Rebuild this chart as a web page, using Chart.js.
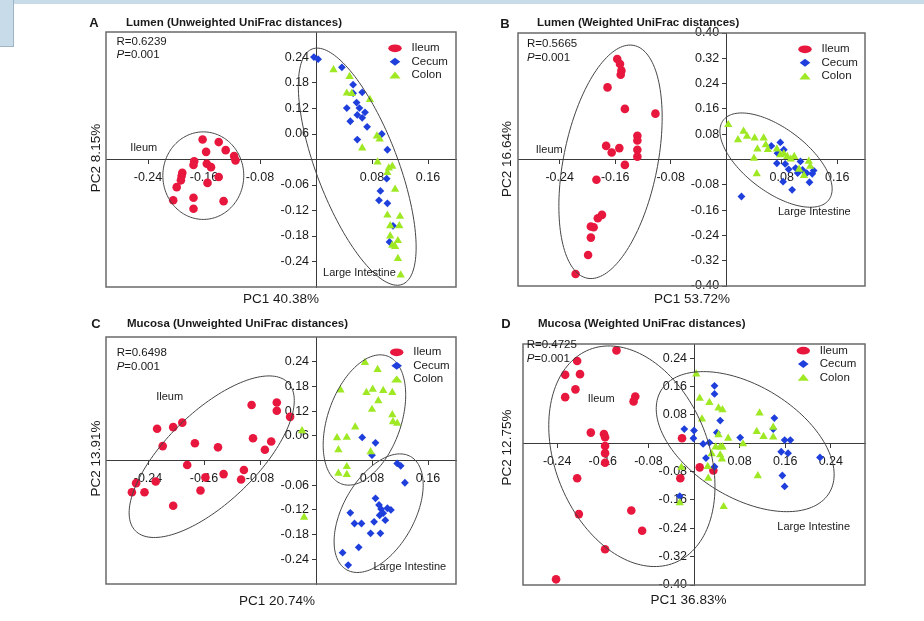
<!DOCTYPE html>
<html>
<head>
<meta charset="utf-8">
<title>PCoA of ileum and large intestine communities</title>
<script src="https://cdn.jsdelivr.net/npm/chart.js@4.4.1/dist/chart.umd.min.js"></script>
<style>
  html, body { margin: 0; padding: 0; background: #ffffff; }
  body { width: 924px; height: 621px; position: relative; overflow: hidden; }
  .band-top { position: absolute; left: 0; top: 0; width: 924px; height: 4px; background: #c8dbe9; }
  .band-left { position: absolute; left: 0; top: 0; width: 13px; height: 46px; background: #c8dbe9; border-right: 1px solid #9fb4c4; border-bottom: 1px solid #9fb4c4; }
  canvas { position: absolute; left: 0; top: 0; pointer-events: none; }
</style>
</head>
<body>
<div class="band-top"></div>
<div class="band-left"></div>
<canvas id="chartA" width="924" height="621"></canvas>
<canvas id="chartB" width="924" height="621"></canvas>
<canvas id="chartC" width="924" height="621"></canvas>
<canvas id="chartD" width="924" height="621"></canvas>
<script>
// ---- groups ----
const groups = ['Ileum', 'Cecum', 'Colon'];

// ---- tick values ----
const xTicksLeft = [-0.24, -0.16, -0.08, 0.08, 0.16];
const xTicksWide = [-0.24, -0.16, -0.08, 0.08, 0.16, 0.24];
const yTicks06 = [-0.24, -0.18, -0.12, -0.06, 0.06, 0.12, 0.18, 0.24];
const yTicks08 = [-0.40, -0.32, -0.24, -0.16, -0.08, 0.08, 0.16, 0.24, 0.32, 0.40];
const yTicks08Short = [-0.40, -0.32, -0.24, -0.16, -0.08, 0.08, 0.16, 0.24];

// ---- Lumen, unweighted UniFrac: [PC1, PC2] ----
const lumenUnwIleum = [[-0.162,0.047],[-0.139,0.041],[-0.157,0.018],[-0.129,0.022],[-0.117,0.008],[-0.115,-0.002],[-0.174,-0.004],[-0.175,-0.013],[-0.156,-0.010],[-0.150,-0.018],[-0.191,-0.031],[-0.192,-0.039],[-0.193,-0.049],[-0.199,-0.065],[-0.139,-0.041],[-0.155,-0.055],[-0.204,-0.096],[-0.175,-0.090],[-0.175,-0.116],[-0.132,-0.098]];
const lumenUnwCecum = [[-0.003,0.241],[0.003,0.236],[0.037,0.217],[0.053,0.176],[0.066,0.158],[0.053,0.156],[0.044,0.121],[0.058,0.134],[0.062,0.121],[0.070,0.111],[0.059,0.105],[0.066,0.098],[0.049,0.090],[0.073,0.077],[0.059,0.047],[0.094,0.060],[0.102,0.023],[0.101,-0.045],[0.092,-0.074],[0.090,-0.096],[0.102,-0.103],[0.110,-0.156],[0.105,-0.194]];
const lumenUnwColon = [[0.025,0.211],[0.048,0.195],[0.044,0.156],[0.051,0.155],[0.077,0.141],[0.087,0.055],[0.091,0.048],[0.066,0.027],[0.088,-0.006],[0.104,-0.020],[0.109,-0.016],[0.102,-0.031],[0.113,-0.070],[0.102,-0.131],[0.120,-0.134],[0.106,-0.156],[0.119,-0.156],[0.106,-0.180],[0.117,-0.191],[0.109,-0.202],[0.113,-0.205],[0.117,-0.233],[0.121,-0.272]];

// ---- Lumen, weighted UniFrac ----
const lumenWIleum = [[-0.157,0.318],[-0.153,0.302],[-0.151,0.281],[-0.152,0.268],[-0.171,0.228],[-0.146,0.160],[-0.102,0.145],[-0.128,0.075],[-0.128,0.060],[-0.173,0.043],[-0.154,0.036],[-0.165,0.022],[-0.128,0.031],[-0.128,0.009],[-0.146,-0.017],[-0.187,-0.064],[-0.179,-0.175],[-0.185,-0.186],[-0.195,-0.212],[-0.191,-0.214],[-0.195,-0.247],[-0.199,-0.302],[-0.217,-0.362]];
const lumenWCecum = [[0.065,0.043],[0.078,0.054],[0.074,0.020],[0.083,0.031],[0.073,-0.012],[0.085,-0.014],[0.082,-0.070],[0.095,-0.096],[0.100,-0.027],[0.107,-0.006],[0.110,-0.033],[0.103,-0.043],[0.116,-0.043],[0.126,-0.035],[0.124,-0.045],[0.120,-0.072],[0.090,-0.031],[0.022,-0.117]];
const lumenWColon = [[0.003,0.110],[0.017,0.062],[0.025,0.089],[0.030,0.073],[0.041,0.068],[0.054,0.068],[0.045,0.033],[0.057,0.046],[0.060,0.031],[0.040,0.004],[0.044,-0.045],[0.073,0.033],[0.078,0.015],[0.083,0.018],[0.088,0.009],[0.093,0.001],[0.098,0.009],[0.105,-0.031],[0.112,-0.051],[0.121,-0.022],[0.119,-0.006]];

// ---- Mucosa, unweighted UniFrac ----
const mucosaUnwIleum = [[-0.227,0.077],[-0.219,0.035],[-0.204,0.081],[-0.191,0.092],[-0.173,0.042],[-0.140,0.032],[-0.092,0.135],[-0.056,0.141],[-0.056,0.121],[-0.037,0.106],[-0.090,0.054],[-0.064,0.046],[-0.073,0.026],[-0.184,-0.011],[-0.158,-0.041],[-0.132,-0.033],[-0.103,-0.023],[-0.107,-0.046],[-0.165,-0.073],[-0.204,-0.110],[-0.229,-0.051],[-0.245,-0.077],[-0.257,-0.055],[-0.263,-0.077]];
const mucosaUnwCecum = [[0.066,0.056],[0.085,0.043],[0.080,0.013],[0.116,-0.007],[0.121,-0.013],[0.127,-0.054],[0.085,-0.092],[0.090,-0.108],[0.102,-0.116],[0.096,-0.128],[0.083,-0.149],[0.099,-0.145],[0.093,-0.118],[0.107,-0.120],[0.091,-0.133],[0.049,-0.127],[0.055,-0.153],[0.065,-0.153],[0.078,-0.177],[0.092,-0.177],[0.061,-0.211],[0.038,-0.224],[0.046,-0.254]];
const mucosaUnwColon = [[0.070,0.238],[0.088,0.221],[0.035,0.171],[0.072,0.165],[0.081,0.173],[0.096,0.170],[0.109,0.165],[0.089,0.145],[0.080,0.124],[0.109,0.111],[0.110,0.094],[0.116,0.090],[0.056,0.081],[0.030,0.055],[0.044,0.056],[0.032,0.026],[0.078,0.021],[0.044,-0.015],[0.032,-0.031],[0.044,-0.034],[-0.020,0.072],[-0.017,-0.138]];

// ---- Mucosa, weighted UniFrac ----
const mucosaWIleum = [[-0.136,0.262],[-0.205,0.232],[-0.226,0.193],[-0.200,0.195],[-0.208,0.152],[-0.226,0.130],[-0.103,0.132],[-0.106,0.118],[-0.181,0.030],[-0.158,0.026],[-0.156,0.017],[-0.156,-0.008],[-0.156,-0.028],[-0.156,-0.055],[-0.021,0.014],[0.010,-0.068],[0.034,-0.077],[-0.024,-0.099],[-0.205,-0.099],[-0.202,-0.200],[-0.110,-0.190],[-0.091,-0.247],[-0.156,-0.299],[-0.242,-0.384]];
const mucosaWCecum = [[0.036,0.162],[0.036,0.139],[-0.017,0.040],[0.000,0.036],[-0.001,0.014],[0.046,0.064],[0.040,0.030],[0.016,-0.002],[0.027,0.002],[0.021,-0.042],[0.036,-0.066],[0.081,0.016],[0.141,0.071],[0.139,0.040],[0.159,0.009],[0.169,0.009],[0.153,-0.024],[0.165,-0.028],[0.221,-0.040],[0.155,-0.091],[0.159,-0.122],[-0.025,-0.149]];
const mucosaWColon = [[0.004,0.195],[0.010,0.127],[0.027,0.115],[0.043,0.099],[0.050,0.094],[0.014,0.068],[0.115,0.085],[0.043,0.024],[0.060,0.014],[0.086,-0.002],[0.110,0.033],[0.122,0.019],[0.139,0.017],[0.139,0.045],[0.046,-0.011],[0.038,-0.011],[0.031,-0.030],[0.050,-0.011],[0.046,-0.033],[0.049,-0.045],[0.024,-0.066],[-0.022,-0.068],[0.025,-0.099],[0.112,-0.092],[0.052,-0.179],[-0.025,-0.168]];

// ---- group ellipses: centre c, semi-axis vectors u and v (PC units) ----
const lumenUnwEllipses = [
  { c: [-0.161, -0.038], u: [0.0578, 0], v: [0, 0.103] },
  { c: [0.0589, -0.0169], u: [0.0642, -0.277], v: [-0.0544, -0.0335] }
];
const lumenWEllipses = [
  { c: [-0.1667, -0.0073], u: [-0.0336, -0.368], v: [0.0664, -0.0291] },
  { c: [0.0718, -0.0019], u: [0.0761, -0.1257], v: [-0.0273, -0.0801] }
];
const mucosaUnwEllipses = [
  { c: [-0.149, 0.0092], u: [0.109, 0.180], v: [0.0451, -0.0782] },
  { c: [0.0692, 0.0984], u: [0.0323, 0.1555], v: [0.0493, -0.0293] },
  { c: [0.0895, -0.128], u: [0.0455, 0.1377], v: [0.0445, -0.0423] }
];
const mucosaWEllipses = [
  { c: [-0.109, -0.0367], u: [0.0744, -0.301], v: [-0.1254, -0.0791] },
  { c: [0.0898, 0.0045], u: [0.1472, -0.1454], v: [-0.0518, -0.1338] }
];

// ---- styling ----
const FONT = '"Liberation Sans", Arial, Helvetica, sans-serif';
const COLORS = ['#e8173e', '#1f3fdc', '#9fe824'];
const STYLES = ['circle', 'rectRot', 'triangle'];
const RADII = [4.3, 3.9, 4.8];
const ORDERS = [3, 2, 1];
const AXIS = '#3a3a3a';
const W = 924, H = 621;

const panels = [
  {
    id: 'chartA', letter: 'A', title: 'Lumen (Unweighted UniFrac distances)',
    xTitle: 'PC1 40.38%', yTitle: 'PC2 8.15%', r: 'R=0.6239', p: '=0.001',
    area: [106, 32, 456, 287], xRange: [-0.30, 0.20], yRange: [-0.30, 0.30],
    xTicks: xTicksLeft, yTicks: yTicks06,
    series: [lumenUnwIleum, lumenUnwCecum, lumenUnwColon], ellipses: lumenUnwEllipses,
    tags: [{ text: 'Ileum', at: [-0.246, 0.027] }, { text: 'Large Intestine', at: [0.062, -0.268] }],
    letterAt: [94, 23], titleAt: [126, 23], xTitleAt: [281, 299], yTitleAt: [96, 158],
    statAt: [116.5, 41.7], legendAt: [395, 48.3]
  },
  {
    id: 'chartB', letter: 'B', title: 'Lumen (Weighted UniFrac distances)',
    xTitle: 'PC1 53.72%', yTitle: 'PC2 16.64%', r: 'R=0.5665', p: '=0.001',
    area: [518, 33, 865, 286], xRange: [-0.30, 0.20], yRange: [-0.40, 0.40],
    xTicks: xTicksLeft, yTicks: yTicks08,
    series: [lumenWIleum, lumenWCecum, lumenWColon], ellipses: lumenWEllipses,
    tags: [{ text: 'Ileum', at: [-0.255, 0.031] }, { text: 'Large Intestine', at: [0.127, -0.166] }],
    letterAt: [505, 24], titleAt: [537, 23], xTitleAt: [692, 299], yTitleAt: [507, 159],
    statAt: [527, 44.3], legendAt: [805, 49.3]
  },
  {
    id: 'chartC', letter: 'C', title: 'Mucosa (Unweighted UniFrac distances)',
    xTitle: 'PC1 20.74%', yTitle: 'PC2 13.91%', r: 'R=0.6498', p: '=0.001',
    area: [106, 337, 456, 584], xRange: [-0.30, 0.20], yRange: [-0.30, 0.30],
    xTicks: xTicksLeft, yTicks: yTicks06,
    series: [mucosaUnwIleum, mucosaUnwCecum, mucosaUnwColon], ellipses: mucosaUnwEllipses,
    tags: [{ text: 'Ileum', at: [-0.209, 0.155] }, { text: 'Large Intestine', at: [0.134, -0.259] }],
    letterAt: [96, 324], titleAt: [127, 324], xTitleAt: [277, 601.5], yTitleAt: [96, 458.5],
    statAt: [116.7, 353.3], legendAt: [396.7, 352.3]
  },
  {
    id: 'chartD', letter: 'D', title: 'Mucosa (Weighted UniFrac distances)',
    xTitle: 'PC1 36.83%', yTitle: 'PC2 12.75%', r: 'R=0.4725', p: '=0.001',
    area: [523, 344, 865, 585], xRange: [-0.30, 0.30], yRange: [-0.40, 0.28],
    xTicks: xTicksWide, yTicks: yTicks08Short,
    series: [mucosaWIleum, mucosaWCecum, mucosaWColon], ellipses: mucosaWEllipses,
    tags: [{ text: 'Ileum', at: [-0.163, 0.124] }, { text: 'Large Intestine', at: [0.210, -0.237] }],
    letterAt: [506, 324], titleAt: [538, 324], xTitleAt: [688.5, 600], yTitleAt: [507, 447.5],
    statAt: [526.7, 345], legendAt: [803.3, 350.7]
  }
];
const panelById = Object.fromEntries(panels.map(p => [p.id, p]));

// legend glyphs (slightly flattened, as in the key)
function legendMarker(ctx, i, x, y) {
  ctx.fillStyle = COLORS[i];
  ctx.beginPath();
  if (i === 0) {
    ctx.ellipse(x, y, 6.7, 3.9, 0, 0, Math.PI * 2);
  } else if (i === 1) {
    ctx.moveTo(x, y - 4); ctx.lineTo(x + 5.3, y); ctx.lineTo(x, y + 4); ctx.lineTo(x - 5.3, y);
  } else {
    ctx.moveTo(x, y - 3.6); ctx.lineTo(x + 5.6, y + 3.3); ctx.lineTo(x - 5.6, y + 3.3);
  }
  ctx.closePath();
  ctx.fill();
}

const panelDecor = {
  id: 'panelDecor',
  afterDatasetsDraw(chart) {
    const p = panelById[chart.canvas.id];
    const { ctx, chartArea: a } = chart;
    const xs = chart.scales.x, ys = chart.scales.y;
    ctx.save();

    // group ellipses
    ctx.strokeStyle = '#444';
    ctx.lineWidth = 1;
    p.ellipses.forEach(e => {
      ctx.beginPath();
      const n = 160;
      for (let k = 0; k <= n; k++) {
        const t = (k / n) * Math.PI * 2;
        const vx = e.c[0] + e.u[0] * Math.cos(t) + e.v[0] * Math.sin(t);
        const vy = e.c[1] + e.u[1] * Math.cos(t) + e.v[1] * Math.sin(t);
        const px = xs.getPixelForValue(vx), py = ys.getPixelForValue(vy);
        if (k === 0) ctx.moveTo(px, py); else ctx.lineTo(px, py);
      }
      ctx.stroke();
    });

    // plot frame
    ctx.strokeStyle = '#6a6a6a';
    ctx.lineWidth = 1.5;
    ctx.strokeRect(a.left, a.top, a.right - a.left, a.bottom - a.top);

    ctx.fillStyle = '#1a1a1a';
    ctx.textBaseline = 'middle';

    // group names inside the plot
    ctx.font = '11px ' + FONT;
    ctx.textAlign = 'center';
    p.tags.forEach(t => {
      ctx.fillText(t.text, xs.getPixelForValue(t.at[0]), ys.getPixelForValue(t.at[1]));
    });

    // ANOSIM statistics
    ctx.textAlign = 'left';
    ctx.font = '11.5px ' + FONT;
    ctx.fillText(p.r, p.statAt[0], p.statAt[1]);
    ctx.font = 'italic 11.5px ' + FONT;
    ctx.fillText('P', p.statAt[0], p.statAt[1] + 13.4);
    const pw = ctx.measureText('P').width;
    ctx.font = '11.5px ' + FONT;
    ctx.fillText(p.p, p.statAt[0] + pw, p.statAt[1] + 13.4);

    // key
    groups.forEach((g, i) => {
      const ly = p.legendAt[1] + i * 13.4;
      legendMarker(ctx, i, p.legendAt[0], ly);
      ctx.fillStyle = '#1a1a1a';
      ctx.font = '11.5px ' + FONT;
      ctx.fillText(g, p.legendAt[0] + 16.5, ly);
    });

    // panel letter and heading
    ctx.font = 'bold 13px ' + FONT;
    ctx.textAlign = 'center';
    ctx.fillText(p.letter, p.letterAt[0], p.letterAt[1]);
    ctx.font = 'bold 11.5px ' + FONT;
    ctx.textAlign = 'left';
    ctx.fillText(p.title, p.titleAt[0], p.titleAt[1]);

    // axis titles
    ctx.font = '13.5px ' + FONT;
    ctx.textAlign = 'center';
    ctx.fillText(p.xTitle, p.xTitleAt[0], p.xTitleAt[1]);
    ctx.translate(p.yTitleAt[0], p.yTitleAt[1]);
    ctx.rotate(-Math.PI / 2);
    ctx.fillText(p.yTitle, 0, 0);
    ctx.restore();
  }
};

function axisOptions(range, ticks, crossing, isY) {
  return {
    type: 'linear',
    position: crossing,
    min: range[0],
    max: range[1],
    bounds: 'data',
    afterBuildTicks: scale => { scale.ticks = ticks.map(v => ({ value: v })); },
    grid: { drawOnChartArea: false, drawTicks: true, tickLength: 4, color: AXIS, lineWidth: 1 },
    border: { display: true, color: AXIS, width: 1 },
    ticks: {
      autoSkip: false,
      maxRotation: 0,
      padding: isY ? 0 : 7,
      color: '#1a1a1a',
      font: { family: FONT, size: 12.5 },
      callback: v => isY ? Number(v).toFixed(2) + '  ' : Number(v).toFixed(2)
    }
  };
}

panels.forEach(p => {
  new Chart(document.getElementById(p.id), {
    type: 'scatter',
    data: {
      datasets: groups.map((g, i) => ({
        label: g,
        data: p.series[i].map(([x, y]) => ({ x, y })),
        pointStyle: STYLES[i],
        pointRadius: RADII[i],
        backgroundColor: COLORS[i],
        borderColor: COLORS[i],
        borderWidth: 0,
        order: ORDERS[i]
      }))
    },
    options: {
      responsive: false,
      animation: false,
      events: [],
      layout: { padding: { left: p.area[0], top: p.area[1], right: W - p.area[2], bottom: H - p.area[3] } },
      plugins: { legend: { display: false }, tooltip: { enabled: false }, title: { display: false } },
      scales: {
        x: axisOptions(p.xRange, p.xTicks, { y: 0 }, false),
        y: axisOptions(p.yRange, p.yTicks, { x: 0 }, true)
      }
    },
    plugins: [panelDecor]
  });
});
</script>
</body>
</html>
